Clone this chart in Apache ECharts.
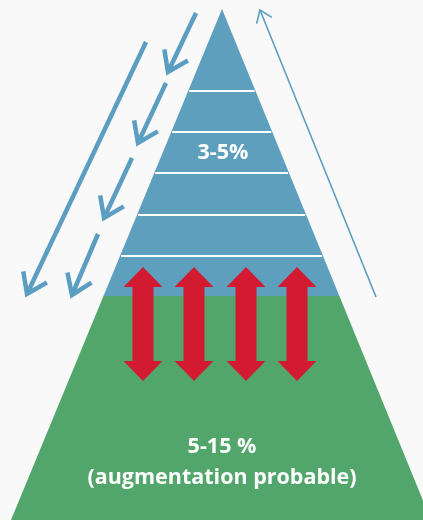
<!DOCTYPE html>
<html>
<head>
<meta charset="utf-8">
<script src="https://cdn.jsdelivr.net/npm/echarts@6/dist/echarts.min.js"></script>
<style>
  html, body { margin: 0; padding: 0; background: #f9f9f9; }
  #pyramid { width: 423px; height: 520px; }
</style>
</head>
<body>
<div id="pyramid"></div>
<script>
// pyramide : zone bleue (3-5%) au sommet, zone verte (5-15 %) à la base
const apex = [222, 9];
const baseY = 520;
const baseLeftX = 11;
const baseRightX = 431;

// zones [haut, bas]
const zoneNames = ["haut", "base"];
const zoneSpans = [[9, 296], [296, 520]];
const zoneColors = ["#5f9fbe", "#52a66c"];

// lignes blanches dans la zone bleue
const levelLines = [91, 132, 173, 215, 256];

// textes
const labelTexts = ["3-5%", "5-15 %", "(augmentation probable)"];
const labelX = [223, 222, 222];
const labelY = [153, 447, 478];

// doubles flèches rouges [x, haut, bas]
const doubleArrows = [
  [143, 267, 381],
  [194, 267, 381],
  [246, 267, 381],
  [297, 267, 381],
];

// flèches bleues descendantes [x1, y1, x2, y2]
const downArrows = [
  [146, 42, 27, 294],
  [196, 13, 168, 72],
  [166, 83, 138, 143],
  [132, 158, 104, 218],
  [98, 234, 72, 295],
];

// flèche fine montante
const upArrow = [[376, 297, 260, 10]];

function edgeX(y, baseX) {
  return apex[0] + (baseX - apex[0]) * (y - apex[1]) / (baseY - apex[1]);
}

function arrowHead(p1, p2, len, angle) {
  let dx = p1[0] - p2[0];
  let dy = p1[1] - p2[1];
  const d = Math.sqrt(dx * dx + dy * dy);
  dx /= d;
  dy /= d;
  const rot = (a) => [
    p2[0] + len * (dx * Math.cos(a) - dy * Math.sin(a)),
    p2[1] + len * (dx * Math.sin(a) + dy * Math.cos(a)),
  ];
  return [rot(angle), p2, rot(-angle)];
}

const chart = echarts.init(document.getElementById("pyramid"));

const option = {
  backgroundColor: "#f9f9f9",
  animation: false,
  grid: { left: 0, right: 0, top: 0, bottom: 0 },
  xAxis: { type: "value", min: 0, max: 423, show: false },
  yAxis: { type: "value", min: 0, max: 520, inverse: true, show: false },
  series: [
    {
      name: "zones",
      type: "custom",
      silent: true,
      data: zoneSpans.map((s, i) => ({ name: zoneNames[i], value: [s[0], s[1]] })),
      renderItem: function (params, api) {
        const top = api.value(0);
        const bot = api.value(1);
        const pts = [];
        if (top <= apex[1]) {
          pts.push(api.coord([apex[0], apex[1]]));
        } else {
          pts.push(api.coord([edgeX(top, baseLeftX), top]));
          pts.push(api.coord([edgeX(top, baseRightX), top]));
        }
        pts.push(api.coord([edgeX(bot, baseRightX), bot]));
        pts.push(api.coord([edgeX(bot, baseLeftX), bot]));
        return {
          type: "polygon",
          shape: { points: pts },
          style: { fill: zoneColors[params.dataIndex] },
        };
      },
    },
    {
      name: "niveaux",
      type: "custom",
      silent: true,
      data: levelLines.map((y) => [y]),
      renderItem: function (params, api) {
        const y = api.value(0);
        const a = api.coord([edgeX(y, baseLeftX) + 1, y]);
        const b = api.coord([edgeX(y, baseRightX) - 1, y]);
        return {
          type: "line",
          shape: { x1: a[0], y1: a[1], x2: b[0], y2: b[1] },
          style: { stroke: "#ffffff", lineWidth: 2 },
        };
      },
    },
    {
      name: "doubles",
      type: "custom",
      silent: true,
      data: doubleArrows,
      renderItem: function (params, api) {
        const t = api.coord([api.value(0), api.value(1)]);
        const b = api.coord([api.value(0), api.value(2)]);
        const cx = t[0];
        const hw = 19.5, hh = 20, sw = 10.5;
        return {
          type: "polygon",
          shape: {
            points: [
              [cx, t[1]], [cx + hw, t[1] + hh], [cx + sw, t[1] + hh],
              [cx + sw, b[1] - hh], [cx + hw, b[1] - hh], [cx, b[1]],
              [cx - hw, b[1] - hh], [cx - sw, b[1] - hh], [cx - sw, t[1] + hh],
              [cx - hw, t[1] + hh],
            ],
          },
          style: { fill: "#d21a30" },
        };
      },
    },
    {
      name: "descente",
      type: "custom",
      silent: true,
      data: downArrows,
      renderItem: function (params, api) {
        const p1 = api.coord([api.value(0), api.value(1)]);
        const p2 = api.coord([api.value(2), api.value(3)]);
        const style = { stroke: "#5b9ec1", lineWidth: 4.5, fill: null, lineCap: "butt", lineJoin: "miter" };
        return {
          type: "group",
          children: [
            { type: "polyline", shape: { points: [p1, p2] }, style: style },
            { type: "polyline", shape: { points: arrowHead(p1, p2, 23, Math.PI / 5.2) }, style: style },
          ],
        };
      },
    },
    {
      name: "montee",
      type: "custom",
      silent: true,
      data: upArrow,
      renderItem: function (params, api) {
        const p1 = api.coord([api.value(0), api.value(1)]);
        const p2 = api.coord([api.value(2), api.value(3)]);
        const style = { stroke: "#5b9ec1", lineWidth: 1.6, fill: null };
        return {
          type: "group",
          children: [
            { type: "polyline", shape: { points: [p1, p2] }, style: style },
            { type: "polyline", shape: { points: arrowHead(p1, p2, 14, Math.PI / 5) }, style: style },
          ],
        };
      },
    },
    {
      name: "textes",
      type: "custom",
      silent: true,
      data: labelTexts.map((t, i) => ({ name: t, value: [labelX[i], labelY[i]] })),
      renderItem: function (params, api) {
        const p = api.coord([api.value(0), api.value(1)]);
        return {
          type: "text",
          x: p[0],
          y: p[1],
          style: {
            text: labelTexts[params.dataIndex],
            fill: "#ffffff",
            font: "bold 21.5px 'Open Sans', sans-serif",
            align: "center",
            verticalAlign: "middle",
          },
        };
      },
    },
  ],
};

chart.setOption(option);
</script>
</body>
</html>
